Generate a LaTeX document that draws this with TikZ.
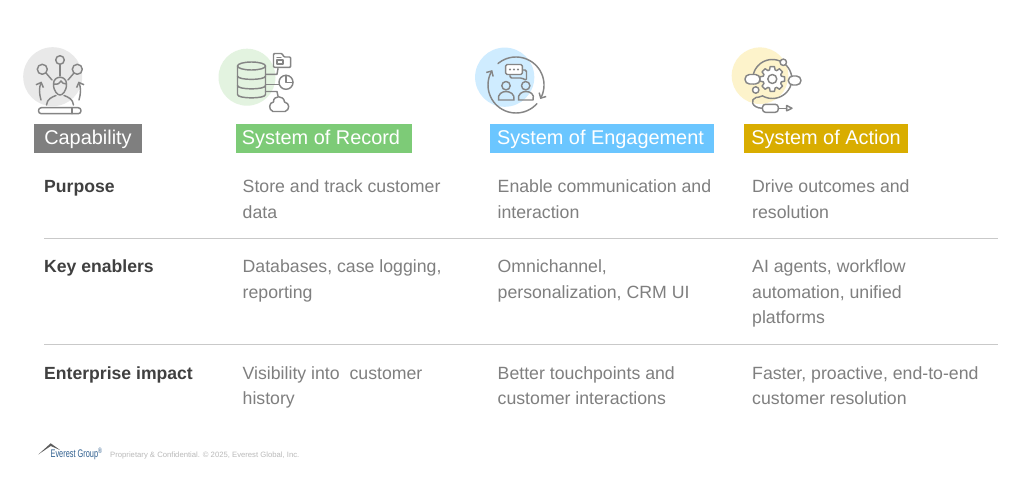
\documentclass[tikz,border=0pt]{standalone}
\usepackage{fontspec}
\setmainfont{Liberation Sans}
\usetikzlibrary{arrows.meta,shapes.geometric}
\definecolor{txtgrey}{HTML}{7F7F7F}
\definecolor{boldgrey}{HTML}{404040}
\definecolor{iconline}{HTML}{858585}
\definecolor{rulegrey}{HTML}{C9C9C9}
\definecolor{capfill}{HTML}{7F7F7F}
\definecolor{recfill}{HTML}{7DCB77}
\definecolor{engfill}{HTML}{6BC6FF}
\definecolor{actfill}{HTML}{D9AD00}
\definecolor{capdisc}{HTML}{E9E9E9}
\definecolor{recdisc}{HTML}{E3F3E0}
\definecolor{engdisc}{HTML}{CFECFF}
\definecolor{actdisc}{HTML}{FDF3CB}
\definecolor{logoblue}{HTML}{2F5F8F}
\tikzset{
  x=1pt,y=-1pt,
  body/.style={anchor=base west,inner sep=0pt,text=txtgrey,font=\fontsize{17.7}{20}\selectfont},
  rowhead/.style={anchor=base west,inner sep=0pt,text=boldgrey,font=\fontsize{17.6}{20}\selectfont\bfseries},
  header/.style={anchor=center,inner sep=0pt,text=white,font=\fontsize{19.9}{23}\selectfont},
  ic/.style={draw=iconline,line width=1.45pt,line cap=round,line join=round},
  icf/.style={ic,fill=white},
  sep/.style={draw=rulegrey,line width=1pt},
  arr/.style={ic,-{Straight Barb[length=4pt,width=8pt]}}
}
\begin{document}
\begin{tikzpicture}
\useasboundingbox (0,0) rectangle (1024,487);
\fill[white] (0,0) rectangle (1024,487);

% --- discs
\fill[capdisc] (52.7,76.7) circle (29.5);
\fill[recdisc] (247,77.2) circle (28.5);
\fill[engdisc] (504.7,77.2) circle (29.6);
\fill[actdisc] (760,75.7) circle (28.3);

% --- header bands
\fill[capfill] (34,123.5) rectangle (142.3,152.5);
\fill[recfill] (235.7,124) rectangle (411.7,153.3);
\fill[engfill] (489.5,124) rectangle (713.5,153.3);
\fill[actfill] (744,124) rectangle (908.3,153.3);
\node[header] (hcap) at (88,139.3) {Capability};
\node[header] (hrec) at (321,139.3) {System of Record};
\node[header] (heng) at (600.5,139.3) {System of Engagement};
\node[header] (hact) at (826,139.3) {System of Action};

% --- capability icon
\draw[ic] (60,64.5) -- (60,76);
\draw[ic] (46,73) -- (52,80);
\draw[ic] (74,73) -- (68,80);
\draw[ic] (60,60) circle (4.3);
\draw[ic] (42.3,69.3) circle (5);
\draw[ic] (77.3,69.3) circle (5);
\draw[ic] (53.5,84) .. controls (53.5,75) and (66.5,75) .. (66.5,84) .. controls (66.5,92) and (62,95) .. (60,95) .. controls (58,95) and (53.5,92) .. (53.5,84) -- cycle;
\draw[ic] (53.5,84) .. controls (58,85) and (60,83) .. (61,81) .. controls (62,83) and (64,84) .. (66.5,84);
\draw[ic] (46.5,105) .. controls (47,99) and (52,97) .. (56,95.5);
\draw[ic] (73.5,105) .. controls (73,99) and (68,97) .. (64,95.5);
\draw[arr] (41,100) .. controls (39,93) and (39,88) .. (41.5,81.5);
\draw[arr] (79,100) .. controls (81,93) and (81,88) .. (78.5,81.5);
\draw[ic,rounded corners=2.8pt] (38.5,107.7) rectangle (81,113.7);
\draw[ic] (72,107.7) -- (72,113.7);

% --- record icon
\draw[ic] (237.5,66) -- (237.5,94.5) .. controls (237.5,99) and (265.5,99) .. (265.5,94.5) -- (265.5,66);
\draw[ic] (251.5,66) ellipse (14 and 4);
\draw[ic] (237.5,76) .. controls (237.5,80.5) and (265.5,80.5) .. (265.5,76);
\draw[ic] (237.5,85.5) .. controls (237.5,90) and (265.5,90) .. (265.5,85.5);
\draw[ic] (265.7,74.3) -- (277,74.3) -- (278,68.5);
\draw[ic] (265.7,84.3) -- (279,84.3);
\draw[ic] (265.7,91.5) -- (277,91.5) -- (278,96);
\draw[ic] (286,82.3) circle (7);
\draw[ic] (286,75.3) -- (286,82.3) -- (293,82.3);
\draw[ic,rounded corners=1pt] (273.5,67.3) -- (273.5,53.5) -- (282,53.5) -- (284,57) -- (290.7,57) -- (290.7,67.3) -- cycle;
\draw[ic] (277,60) rectangle (283,64);
\draw[ic] (277,57.5) -- (281,57.5);
\draw[ic] (273,111.5) .. controls (268,110) and (269,102) .. (273.5,102) .. controls (273,95) and (284,95) .. (284.5,102) .. controls (290,103) and (290,110) .. (285,111.5) -- cycle;

% --- engagement icon
\draw[arr] plot[domain=130:-30,samples=40,smooth] ({516+28*cos(\x)},{85-28*sin(\x)});
\draw[arr] plot[domain=-42:-212,samples=40,smooth] ({516+28*cos(\x)},{85-28*sin(\x)});
\draw[ic,rounded corners=1.5pt] (510,70) -- (510,78) -- (522,78) -- (526.5,80.5) -- (526.5,70) -- (522,70);
\draw[icf,rounded corners=1.5pt] (505.7,64.5) rectangle (522.3,74.5);
\fill[iconline] (510,69.5) circle (1.1) (514,69.5) circle (1.1) (518,69.5) circle (1.1);
\draw[ic] (506,85.7) circle (4.2);
\draw[ic] (525.7,85.7) circle (4.2);
\draw[ic] (498.5,100) .. controls (497.5,94) and (502,91.5) .. (506,91.5) .. controls (510,91.5) and (515,94) .. (514,100) -- cycle;
\draw[ic] (518.5,100) .. controls (517.5,94) and (522,91.5) .. (526,91.5) .. controls (530,91.5) and (535,94) .. (533,100) -- cycle;

% --- action icon
\draw[ic] plot[domain=195:-120,samples=50,smooth] ({772.3+19.5*cos(\x)},{79-19.5*sin(\x)})
  .. controls (760,97.5) and (757,97) .. (756,97.5) .. controls (750,99) and (751,108) .. (762.5,108.3);
\draw[icf] ({772.3+12.5*cos(-10)},{79-12.5*sin(-10)})
  \foreach \a in {0,45,...,315}{
    -- ({772.3+12.5*cos(\a+10)},{79-12.5*sin(\a+10)})
    -- ({772.3+9.5*cos(\a+17)},{79-9.5*sin(\a+17)})
    -- ({772.3+9.5*cos(\a+28)},{79-9.5*sin(\a+28)})
    -- ({772.3+12.5*cos(\a+35)},{79-12.5*sin(\a+35)})
  } -- cycle;
\draw[ic] (772.3,79) circle (4.5);
\draw[icf,rounded corners=4.5pt] (745,74.5) rectangle (760,84);
\draw[icf,rounded corners=4.5pt] (788.3,76) rectangle (801,85);
\draw[icf] (783.3,62.3) circle (3.2);
\draw[icf] (755.7,90) circle (3.2);
\draw[ic,rounded corners=3pt] (762.5,104.3) rectangle (778.3,112.3);
\draw[ic] (778.3,108.3) -- (786.7,108.3);
\draw[ic] (786.7,105.5) -- (792,108.3) -- (786.7,110.8) -- cycle;

% --- rows
\node[rowhead] (r1) at (44,192.5) {Purpose};
\node[body] (a1) at (242.5,192.5) {Store and track customer};
\node[body] (a2) at (242.5,218) {data};
\node[body] (b1) at (497.5,192.5) {Enable communication and};
\node[body] (b2) at (497.5,218) {interaction};
\node[body] (c1) at (752,192.5) {Drive outcomes and};
\node[body] (c2) at (752,218) {resolution};

\coordinate (s1a) at (44,238.5);
\coordinate (s1b) at (998,238.5);
\draw[sep] (s1a) -- (s1b);

\node[rowhead] (r2) at (44,272.5) {Key enablers};
\node[body] (a3) at (242.5,272.5) {Databases, case logging,};
\node[body] (a4) at (242.5,298) {reporting};
\node[body] (b3) at (497.5,272.5) {Omnichannel,};
\node[body] (b4) at (497.5,298) {personalization, CRM UI};
\node[body] (c3) at (752,272.5) {AI agents, workflow};
\node[body] (c4) at (752,298) {automation, unified};
\node[body] (c5) at (752,323.5) {platforms};

\coordinate (s2a) at (44,344.5);
\coordinate (s2b) at (998,344.5);
\draw[sep] (s2a) -- (s2b);

\node[rowhead] (r3) at (44,379) {Enterprise impact};
\node[body] (a5) at (242.5,379) {Visibility into\ \ customer};
\node[body] (a6) at (242.5,404.5) {history};
\node[body] (b5) at (497.5,379) {Better touchpoints and};
\node[body] (b6) at (497.5,404.5) {customer interactions};
\node[body] (c6) at (752,379) {Faster, proactive, end-to-end};
\node[body] (c7) at (752,404.5) {customer resolution};

% --- footer
\fill[boldgrey!85] (38.3,454.5) -- (50.7,443.3) -- (60,450) -- (50.7,446) -- cycle;
\node[anchor=base west,inner sep=0pt,text=logoblue,font=\fontsize{11}{12}\selectfont,xscale=0.67] (logo) at (50.5,457.7) {Everest Group\textsuperscript{®}};
\node[anchor=base west,inner sep=0pt,text=black!27,font=\fontsize{7.7}{9}\selectfont] (foot) at (110,457.5) {Proprietary \& Confidential. © 2025, Everest Global, Inc.};
\end{tikzpicture}
\end{document}
